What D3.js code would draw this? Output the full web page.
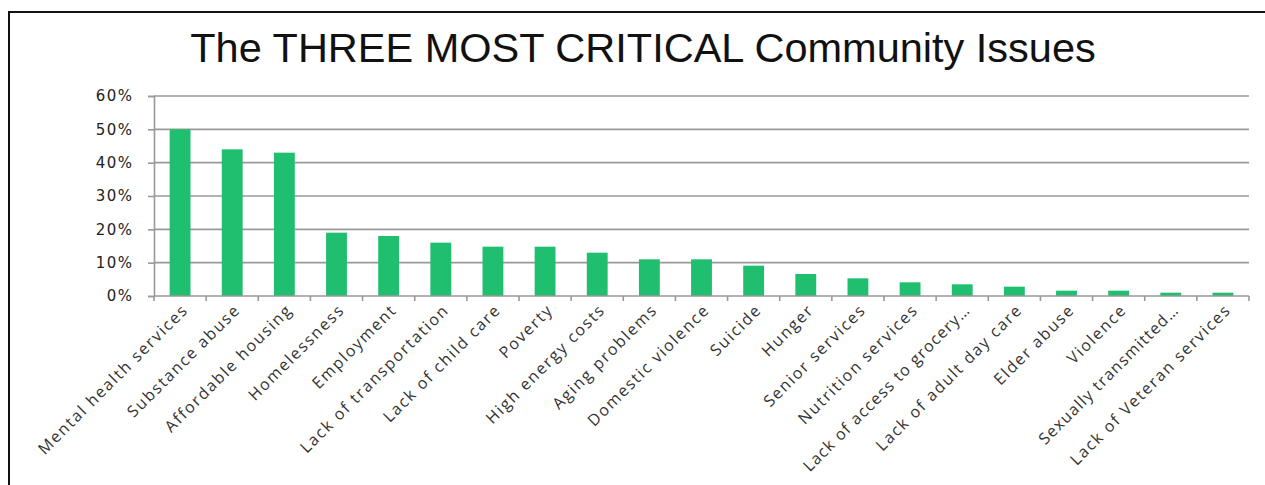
<!DOCTYPE html>
<html>
<head>
<meta charset="utf-8">
<script src="https://cdn.jsdelivr.net/npm/d3@7"></script>
<style>
  html, body { margin: 0; padding: 0; background: #fff; }
  svg { display: block; }
</style>
</head>
<body>
<svg id="chart" width="1265" height="485"></svg>
<script>
// Share of respondents naming each issue among the three most critical
const categories = [
  "Mental health services", "Substance abuse", "Affordable housing", "Homelessness",
  "Employment", "Lack of transportation", "Lack of child care", "Poverty",
  "High energy costs", "Aging problems", "Domestic violence", "Suicide", "Hunger",
  "Senior services", "Nutrition services", "Lack of access to grocery…",
  "Lack of adult day care", "Elder abuse", "Violence", "Sexually transmitted…",
  "Lack of Veteran services"
];
const values = [
  0.50, 0.44, 0.43, 0.19, 0.18, 0.16, 0.148, 0.148, 0.13, 0.11, 0.11, 0.091,
  0.066, 0.053, 0.041, 0.035, 0.028, 0.016, 0.016, 0.01, 0.01
];
const yTicks = [0, 0.1, 0.2, 0.3, 0.4, 0.5, 0.6];
const title = "The THREE MOST CRITICAL Community Issues";

const svg = d3.select("#chart");
const plot = { left: 154, right: 1249, top: 96, bottom: 296 };

// Outer frame (left and top edges visible)
svg.append("path")
  .attr("d", "M9,490 V12 H1270")
  .attr("fill", "none")
  .attr("stroke", "#111")
  .attr("stroke-width", 2);

svg.append("text")
  .attr("x", 643).attr("y", 62)
  .attr("text-anchor", "middle")
  .attr("font-family", "Liberation Sans, Arial, sans-serif")
  .attr("font-size", 41.5)
  .attr("fill", "#111")
  .text(title);

const x = d3.scaleBand().domain(categories).range([plot.left, plot.right]).paddingInner(0.6).paddingOuter(0.3);
const xb = d3.scaleBand().domain(categories).range([plot.left, plot.right]);
const y = d3.scaleLinear().domain([0, 0.6]).range([plot.bottom, plot.top]);

// Horizontal gridlines
svg.append("g").selectAll("line").data(yTicks.slice(1)).join("line")
  .attr("x1", plot.left).attr("x2", plot.right)
  .attr("y1", d => y(d)).attr("y2", d => y(d))
  .attr("stroke", "#999").attr("stroke-width", 1.6);

// Y axis
const yAxis = svg.append("g").attr("transform", `translate(${plot.left},0)`)
  .call(d3.axisLeft(y).tickValues(yTicks).tickFormat(d3.format(".0%")).tickSize(6).tickPadding(14.5));
yAxis.select(".domain").attr("stroke", "#999").attr("stroke-width", 1.6);
yAxis.selectAll(".tick line").attr("stroke", "#999").attr("stroke-width", 1.6);
yAxis.selectAll("text")
  .attr("font-family", "DejaVu Sans, Verdana, sans-serif")
  .attr("font-size", 15)
  .attr("letter-spacing", 1.5)
  .attr("fill", "#222");

// Bars
svg.append("g").selectAll("rect").data(values).join("rect")
  .attr("x", (d, i) => x(categories[i]))
  .attr("width", x.bandwidth())
  .attr("y", d => y(d))
  .attr("height", d => y(0) - y(d))
  .attr("fill", "#20bf6f");

// X axis with ticks between categories
const xAxisG = svg.append("g").attr("transform", `translate(0,${plot.bottom})`);
xAxisG.append("line")
  .attr("x1", plot.left).attr("x2", plot.right)
  .attr("stroke", "#999").attr("stroke-width", 1.6);
const bounds = categories.map(c => xb(c)).concat([plot.right]);
xAxisG.selectAll("line.tk").data(bounds).join("line")
  .attr("class", "tk")
  .attr("x1", d => d).attr("x2", d => d)
  .attr("y1", 0).attr("y2", 5)
  .attr("stroke", "#999").attr("stroke-width", 1.6);

xAxisG.selectAll("text").data(categories).join("text")
  .attr("transform", d => `translate(${xb(d) + xb.bandwidth() / 2 + 9},${15}) rotate(-45)`)
  .attr("text-anchor", "end")
  .attr("font-family", "Open Sans, sans-serif")
  .attr("font-size", 16)
  .attr("letter-spacing", d => d.endsWith("…") ? 1.2 : 1.7)
  .attr("fill", "#333")
  .text(d => d);
</script>
</body>
</html>
